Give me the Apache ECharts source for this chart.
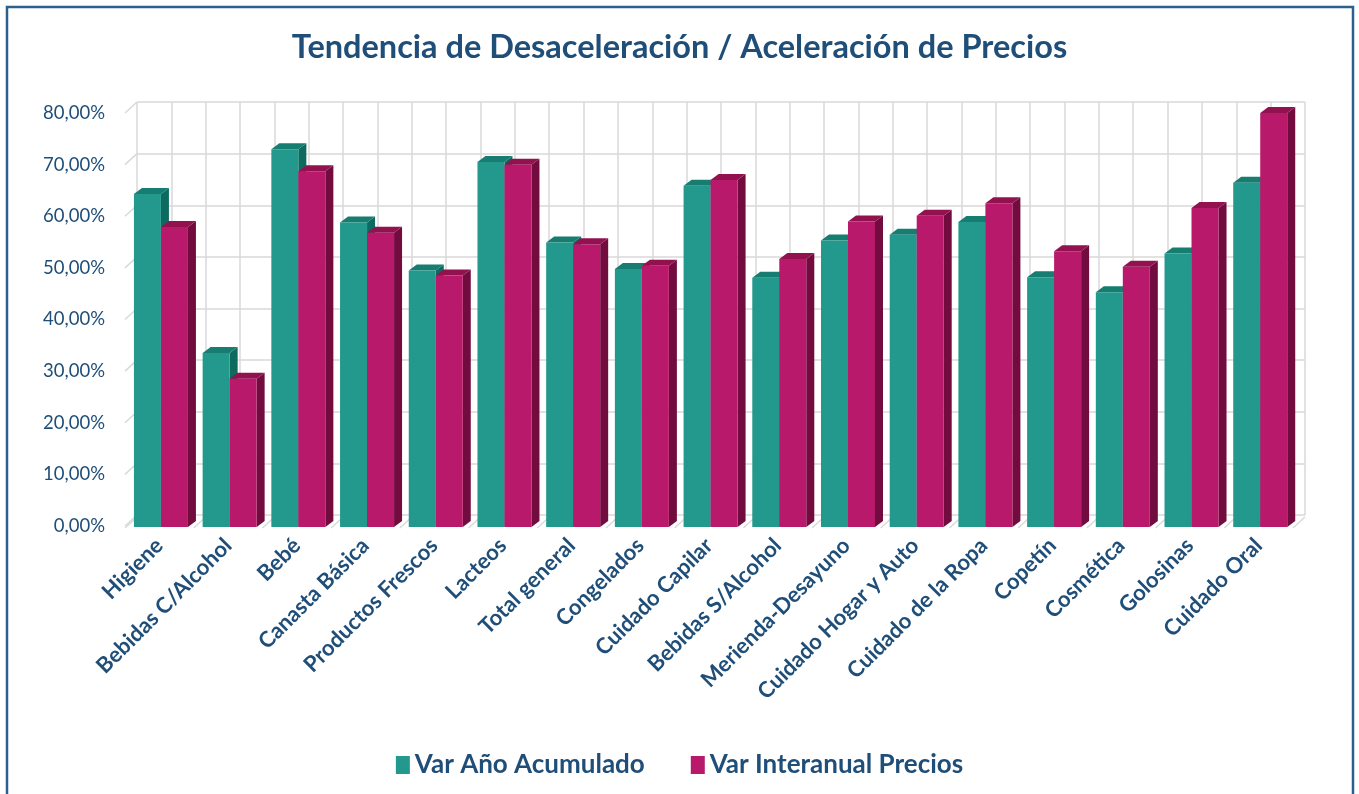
<!DOCTYPE html>
<html>
<head>
<meta charset="utf-8">
<script src="https://cdn.jsdelivr.net/npm/echarts@6/dist/echarts.min.js"></script>
<style>html,body{margin:0;padding:0;background:#fff;}#main{width:1359px;height:794px;}</style>
</head>
<body>
<div id="main"></div>
<script>
// ---- data ----
const categories = ['Higiene','Bebidas C/Alcohol','Bebé','Canasta Básica','Productos Frescos','Lacteos','Total general','Congelados','Cuidado Capilar','Bebidas S/Alcohol','Merienda-Desayuno','Cuidado Hogar y Auto','Cuidado de la Ropa','Copetín','Cosmética','Golosinas','Cuidado Oral'];
const varAnioAcumulado = [64.3, 33.5, 73.0, 58.8, 49.5, 70.5, 54.9, 49.8, 65.9, 48.1, 55.3, 56.4, 58.9, 48.2, 45.3, 52.8, 66.5];
const varInteranual    = [57.9, 28.5, 68.7, 56.8, 48.5, 70.0, 54.6, 50.4, 67.0, 51.7, 59.0, 60.1, 62.5, 53.2, 50.2, 61.6, 80.0];
const seriesNames = ['Var Año Acumulado', 'Var Interanual Precios'];
const yTicks = [0, 10, 20, 30, 40, 50, 60, 70, 80];
const titleText = 'Tendencia de Desaceleración / Aceleración de Precios';

// ---- style ----
const TXT = '#1F4E79';
const GRIDC = '#D9D9D9';
const FONT = 'Lato';
const G = {left: 125, top: 113, width: 1168, height: 413};
const DEPTH = [12, -11];   // back wall offset
const BD = [8, -6];        // bar depth
const palette = [
  {front: '#23998E', side: '#0C6A5F', top: '#177D71'},
  {front: '#B8196A', side: '#720B3E', top: '#92124F'}
];
const n = categories.length;

function barRender(si) {
  const pc = palette[si];
  return function (params, api) {
    const i = api.value(0), v = api.value(1);
    const catW = api.size([1, 0])[0];
    const c = api.coord([i + 0.5, v]);
    const b = api.coord([i + 0.5, 0]);
    const bw = catW * 0.393;
    const shift = catW * 0.023;
    const x0 = c[0] + shift + (si === 0 ? -bw : 0);
    const x1 = x0 + bw;
    const yt = c[1], yb = b[1] + 1;
    const dx = BD[0], dy = BD[1];
    return {type: 'group', children: [
      {type: 'polygon', shape: {points: [[x1, yt], [x1 + dx, yt + dy], [x1 + dx, yb + dy], [x1, yb]]}, style: {fill: pc.side}},
      {type: 'polygon', shape: {points: [[x0, yt], [x0 + dx, yt + dy], [x1 + dx, yt + dy], [x1, yt]]}, style: {fill: pc.top}},
      {type: 'rect', shape: {x: x0, y: yt, width: bw, height: yb - yt}, style: {fill: pc.front}}
    ]};
  };
}

// wall diagonals (left wall at each y tick)
function wallRender(params, api) {
  const p = api.coord([0, api.value(0)]);
  return {type: 'line', shape: {x1: p[0], y1: p[1], x2: p[0] + DEPTH[0], y2: p[1] + DEPTH[1]}, style: {stroke: GRIDC, lineWidth: 1.5}};
}
// floor diagonals at category boundaries
function floorRender(params, api) {
  const p = api.coord([api.value(0), 0]);
  return {type: 'line', shape: {x1: p[0], y1: p[1] + 2, x2: p[0] + DEPTH[0], y2: p[1] + 2 + DEPTH[1]}, style: {stroke: GRIDC, lineWidth: 1.5}};
}
const boundaries = [];
for (let k = 0; k <= n; k++) boundaries.push([k]);

const chart = echarts.init(document.getElementById('main'), null, {renderer: 'canvas'});
chart.setOption({
  backgroundColor: '#fff',
  animation: false,
  title: {text: titleText, left: 'center', top: 26,
    textStyle: {fontFamily: FONT, fontWeight: 'bold', fontSize: 32.5, color: TXT}},
  legend: {
    data: seriesNames, top: 747, left: 'center', icon: 'rect', itemWidth: 14, itemHeight: 18, itemGap: 46,
    textStyle: {fontFamily: FONT, fontWeight: 'bold', fontSize: 26, color: TXT}
  },
  graphic: [{type: 'rect', shape: {x: 7, y: 7, width: 1346, height: 800}, style: {fill: 'none', stroke: '#2C5F8D', lineWidth: 2.5}, z: -1}],
  grid: [
    {left: G.left, top: G.top, width: G.width, height: G.height},
    {left: G.left + DEPTH[0], top: G.top + DEPTH[1], width: G.width, height: G.height}
  ],
  xAxis: [
    {type: 'category', gridIndex: 0, data: categories,
      axisLine: {show: false}, axisTick: {show: false}, splitLine: {show: false},
      axisLabel: {interval: 0, rotate: 45, margin: 16, fontFamily: FONT, fontWeight: 'bold', fontSize: 22, color: TXT}},
    {type: 'value', gridIndex: 1, min: 0, max: 2 * n, interval: 1, axisLine: {show: false}, axisTick: {show: false}, axisLabel: {show: false},
      splitLine: {show: true, lineStyle: {color: GRIDC, width: 1.5}}},
    {type: 'value', gridIndex: 0, min: 0, max: n, interval: 1, show: false}
  ],
  yAxis: [
    {type: 'value', gridIndex: 0, min: 0, max: 80, interval: 10, axisLine: {show: false}, axisTick: {show: false}, splitLine: {show: false},
      axisLabel: {margin: 20, fontFamily: FONT, fontSize: 18.5, color: TXT, formatter: v => v.toFixed(2).replace('.', ',') + '%'}},
    {type: 'value', gridIndex: 1, min: 0, max: 80, interval: 10, axisLine: {show: false}, axisTick: {show: false}, axisLabel: {show: false},
      splitLine: {show: true, lineStyle: {color: GRIDC, width: 1.5}}}
  ],
  series: [
    {type: 'custom', name: 'wall', xAxisIndex: 2, yAxisIndex: 0, renderItem: wallRender, data: yTicks.map(v => [v]), silent: true, z: 1},
    {type: 'custom', name: 'floor', xAxisIndex: 2, yAxisIndex: 0, renderItem: floorRender, data: boundaries, silent: true, z: 1},
    {type: 'custom', name: seriesNames[0], xAxisIndex: 2, yAxisIndex: 0, renderItem: barRender(0), itemStyle: {color: palette[0].front},
      data: varAnioAcumulado.map((v, i) => [i, v]), z: 3},
    {type: 'custom', name: seriesNames[1], xAxisIndex: 2, yAxisIndex: 0, renderItem: barRender(1), itemStyle: {color: palette[1].front},
      data: varInteranual.map((v, i) => [i, v]), z: 4}
  ]
});
</script>
</body>
</html>
